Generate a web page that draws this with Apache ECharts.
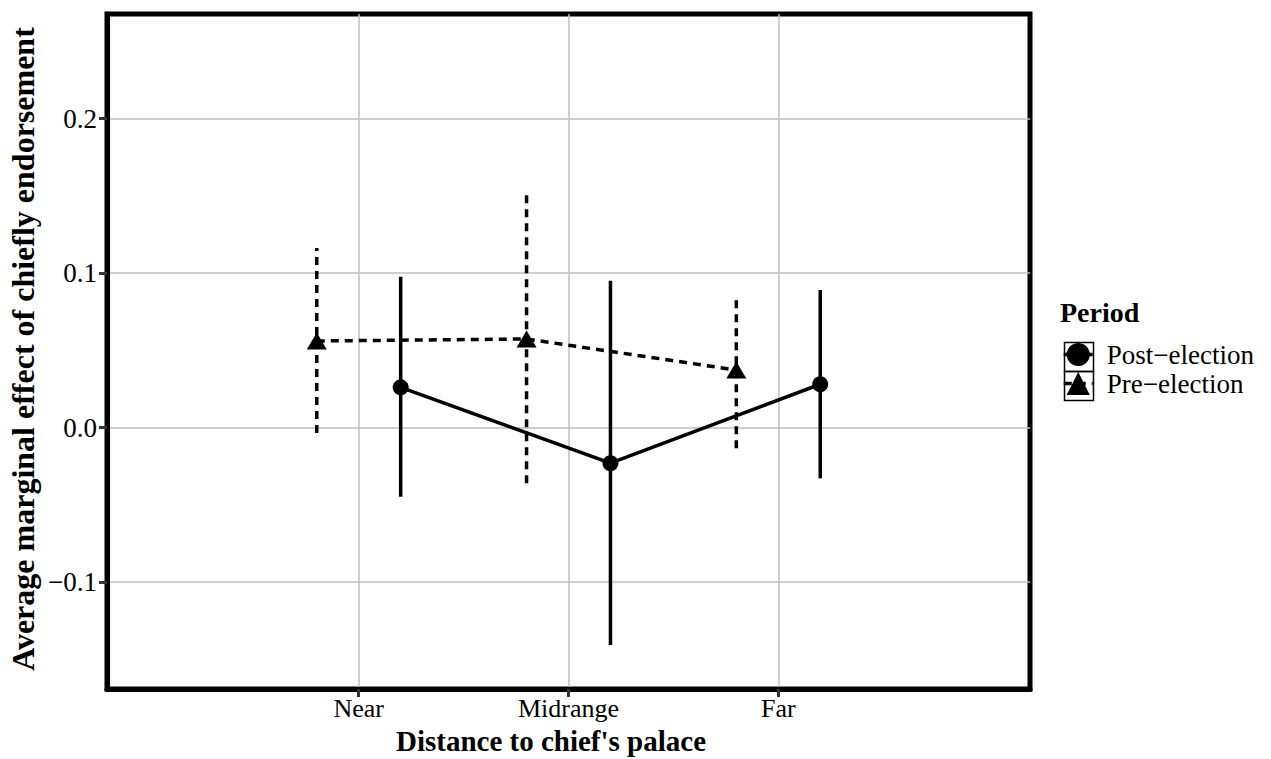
<!DOCTYPE html>
<html>
<head>
<meta charset="utf-8">
<script src="https://cdn.jsdelivr.net/npm/echarts@6/dist/echarts.min.js"></script>
<style>
  html, body { margin: 0; padding: 0; background: #fff; }
  #chart { width: 1271px; height: 759px; }
</style>
</head>
<body>
<div id="chart"></div>
<script>
// ---- data ----
const categories = ['Near', 'Midrange', 'Far'];
const seriesNames = ['Post\u2212election', 'Pre\u2212election'];
const postEst  = [0.0261, -0.0230, 0.0281];
const postLow  = [-0.0447, -0.1406, -0.0328];
const postHigh = [0.0977, 0.0951, 0.0891];
const preEst   = [0.0561, 0.0574, 0.0373];
const preLow   = [-0.0034, -0.0360, -0.0133];
const preHigh  = [0.1163, 0.1510, 0.0859];
const yTicks   = [-0.1, 0.0, 0.1, 0.2];
const xTicks   = [1, 2, 3];

// ---- build ----
const DODGE = 0.2;
const FONT = '"Liberation Serif", "DejaVu Serif", serif';
function pts(est, off) { return est.map((v, i) => [i + 1 + off, v]); }
function bars(lo, hi, off) { return lo.map((v, i) => [i + 1 + off, v, hi[i]]); }
function fmtY(v) {
  const s = Math.abs(v).toFixed(1);
  return (v < -1e-9 ? '\u2212' : '') + s;
}

function errRender(dash) {
  return function (params, api) {
    const x = api.value(0);
    const p1 = api.coord([x, api.value(1)]);
    const p2 = api.coord([x, api.value(2)]);
    return {
      type: 'line',
      shape: { x1: p1[0], y1: p1[1], x2: p2[0], y2: p2[1] },
      style: { stroke: '#000', lineWidth: 3.5, lineDash: dash }
    };
  };
}

const chart = echarts.init(document.getElementById('chart'), null, { renderer: 'svg' });
chart.setOption({
  animation: false,
  backgroundColor: '#fff',
  color: ['#000', '#000'],
  grid: {
    left: 107, right: 241, top: 14, bottom: 70,
    show: true, borderColor: '#000', borderWidth: 5, backgroundColor: 'transparent'
  },
  xAxis: {
    type: 'value', min: -0.2, max: 4.2,
    axisLine: { show: true, onZero: false, lineStyle: { color: '#000', width: 5 } },
    axisTick: { show: true, customValues: xTicks, length: 8, lineStyle: { color: '#333', width: 3 } },
    axisLabel: {
      customValues: xTicks, margin: 6,
      formatter: v => categories[Math.round(v) - 1] || '',
      fontFamily: FONT, fontSize: 26, color: '#000'
    },
    splitLine: { show: true, lineStyle: { color: '#bebebe', width: 1.5 } }
  },
  yAxis: {
    type: 'value', min: -0.1691, max: 0.2677,
    axisLine: { show: true, onZero: false, lineStyle: { color: '#000', width: 5 } },
    axisTick: { show: true, customValues: yTicks, length: 8, lineStyle: { color: '#333', width: 3 } },
    axisLabel: {
      customValues: yTicks, margin: 10,
      formatter: fmtY,
      fontFamily: FONT, fontSize: 27, color: '#000'
    },
    splitLine: { show: true, lineStyle: { color: '#bebebe', width: 1.5 } }
  },
  legend: {
    orient: 'vertical', left: 1062, top: 340,
    itemWidth: 29, itemHeight: 29, itemGap: 0, padding: 0,
    data: seriesNames,
    lineStyle: { width: 3.5 },
    textStyle: { fontFamily: FONT, fontSize: 27, color: '#000', lineHeight: 29, padding: [0, 0, 0, 9] }
  },
  graphic: [
    { type: 'text', left: 1060, top: 298, style: { text: 'Period', font: 'bold 28px ' + FONT, fill: '#000' } },
    { type: 'rect', left: 1062, top: 340, shape: { width: 29, height: 29 }, style: { fill: 'none', stroke: '#000', lineWidth: 1.5 }, z: 10 },
    { type: 'rect', left: 1062, top: 369, shape: { width: 29, height: 29 }, style: { fill: 'none', stroke: '#000', lineWidth: 1.5 }, z: 10 },
    {
      type: 'text', x: 23, y: 349, rotation: Math.PI / 2,
      style: { text: 'Average marginal effect of chiefly endorsement', font: 'bold 32px ' + FONT, fill: '#000', textAlign: 'center', textVerticalAlign: 'middle' }
    },
    {
      type: 'text', x: 551, y: 741,
      style: { text: "Distance to chief's palace", font: 'bold 29px ' + FONT, fill: '#000', textAlign: 'center', textVerticalAlign: 'middle' }
    }
  ],
  series: [
    {
      name: seriesNames[0], type: 'line', data: pts(postEst, DODGE),
      symbol: 'circle', symbolSize: 16,
      lineStyle: { color: '#000', width: 3.5, type: 'solid' },
      itemStyle: { color: '#000' }, z: 3
    },
    {
      name: seriesNames[1], type: 'line', data: pts(preEst, -DODGE),
      symbol: 'triangle', symbolSize: [20, 17],
      lineStyle: { color: '#000', width: 3.5, type: [8, 6] },
      itemStyle: { color: '#000' }, z: 3
    },
    {
      name: seriesNames[0] + ' interval', type: 'custom', renderItem: errRender(null),
      data: bars(postLow, postHigh, DODGE), encode: { x: 0, y: [1, 2] }, z: 2, silent: true
    },
    {
      name: seriesNames[1] + ' interval', type: 'custom', renderItem: errRender([8, 6]),
      data: bars(preLow, preHigh, -DODGE), encode: { x: 0, y: [1, 2] }, z: 2, silent: true
    }
  ]
});
</script>
</body>
</html>
